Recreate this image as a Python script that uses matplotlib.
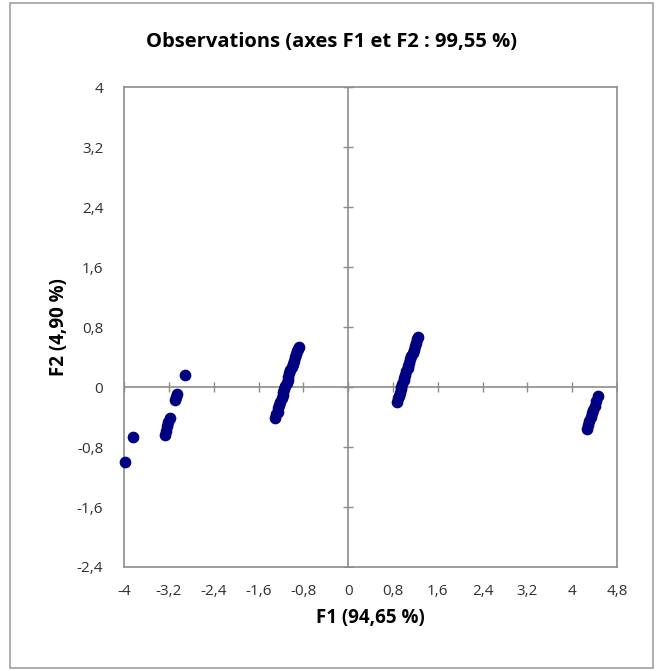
import numpy as np
import matplotlib.pyplot as plt
from matplotlib.patches import Rectangle

plt.rcParams['font.family'] = ['Open Sans', 'DejaVu Sans']

# observations, by group along F1
f1_far_left = [-3.98, -3.84, -3.27, -3.25, -3.23, -3.21, -3.18, -3.10, -3.08, -3.05, -2.91]
f2_far_left = [-1.00, -0.67, -0.64, -0.58, -0.52, -0.47, -0.41, -0.17, -0.13, -0.09, 0.16]

f1_mid_left = [-1.30, -1.28, -1.26, -1.25, -1.23, -1.21, -1.19, -1.17, -1.16, -1.14, -1.12, -1.10,
               -1.08, -1.07, -1.05, -1.03, -1.01, -0.99, -0.97, -0.95, -0.93, -0.91, -0.89, -0.88]
f2_mid_left = [-0.41, -0.36, -0.33, -0.28, -0.24, -0.20, -0.15, -0.11, -0.07, -0.03, 0.02, 0.06,
               0.10, 0.14, 0.19, 0.23, 0.27, 0.31, 0.35, 0.40, 0.44, 0.48, 0.51, 0.53]

f1_mid_right = [0.87, 0.89, 0.90, 0.92, 0.94, 0.95, 0.97, 0.99, 1.00, 1.02, 1.04, 1.06,
                1.07, 1.09, 1.11, 1.13, 1.15, 1.17, 1.19, 1.21, 1.23, 1.25]
f2_mid_right = [-0.20, -0.15, -0.12, -0.08, -0.03, 0.00, 0.04, 0.09, 0.12, 0.16, 0.21, 0.25,
                0.28, 0.32, 0.37, 0.41, 0.46, 0.50, 0.55, 0.59, 0.64, 0.67]

f1_right = [4.27, 4.29, 4.31, 4.33, 4.35, 4.38, 4.40, 4.43, 4.46]
f2_right = [-0.56, -0.50, -0.45, -0.40, -0.35, -0.30, -0.25, -0.19, -0.12]

xticks = [-4, -3.2, -2.4, -1.6, -0.8, 0, 0.8, 1.6, 2.4, 3.2, 4, 4.8]
yticks = [-2.4, -1.6, -0.8, 0, 0.8, 1.6, 2.4, 3.2, 4]

title = 'Observations (axes F1 et F2 : 99,55 %)'
xlabel = 'F1 (94,65 %)'
ylabel = 'F2 (4,90 %)'

grey = '#8c8c8c'
navy = '#000080'


def fmt(v):
    return ('%g' % v).replace('.', ',')


fig = plt.figure(figsize=(6.57, 6.71), dpi=100)
ax = fig.add_axes([0.189, 0.155, 0.750, 0.715])

f1 = f1_far_left + f1_mid_left + f1_mid_right + f1_right
f2 = f2_far_left + f2_mid_left + f2_mid_right + f2_right
ax.scatter(f1, f2, s=55, color=navy, zorder=3, clip_on=False)

# axes through the origin, with cross ticks
ax.axhline(0, color=grey, lw=1.2, zorder=1)
ax.axvline(0, color=grey, lw=1.2, zorder=1)
ax.plot(xticks, np.zeros(len(xticks)), ls='none', marker='|', ms=7, mew=1.0, color=grey, zorder=1)
ax.plot(np.zeros(len(yticks)), yticks, ls='none', marker='_', ms=7, mew=1.0, color=grey, zorder=1)

ax.set_xlim(-4, 4.8)
ax.set_ylim(-2.4, 4)
ax.set_xticks(xticks)
ax.set_xticklabels([fmt(v) for v in xticks])
ax.set_yticks(yticks)
ax.set_yticklabels([fmt(v) for v in yticks])
ax.tick_params(length=0, labelsize=11, labelcolor='#303030')
ax.tick_params(axis='x', pad=12)
ax.tick_params(axis='y', pad=15)
for s in ax.spines.values():
    s.set_color(grey)
    s.set_linewidth(1.2)

ax.set_xlabel(xlabel, fontsize=13.5, fontweight='bold', labelpad=7)
ax.set_ylabel(ylabel, fontsize=13.5, fontweight='bold', labelpad=6)
fig.text(0.504, 0.937, title, fontsize=14.5, fontweight='bold', ha='center', va='center')

# chart border
fig.patches.append(Rectangle((10 / 657, 3 / 671), 643 / 657, 665 / 671, transform=fig.transFigure,
                             fill=False, edgecolor='#a0a0a0', lw=1.2))

fig.savefig('out.png', dpi=100)
